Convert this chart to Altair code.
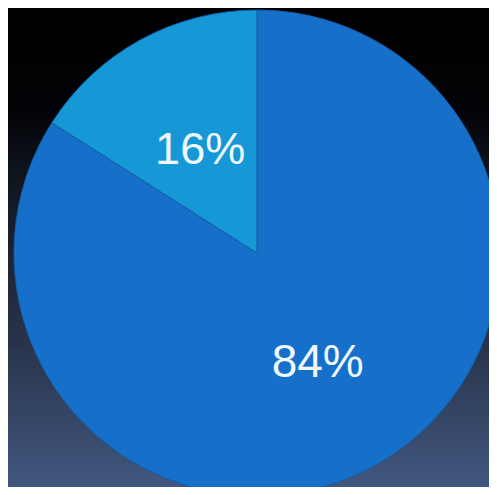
import altair as alt
import pandas as pd

categories = ["A", "B"]
values = [84, 16]
labels = ["84%", "16%"]
colors = ["#1670c9", "#1798d6"]

df = pd.DataFrame({"category": categories, "value": values, "label": labels, "order": [0, 1]})

W, H = 481, 479
CX, CY, R = 249, 242, 243

bg = alt.Chart(pd.DataFrame({"a": [0]})).mark_rect(
    color=alt.Gradient(
        gradient="linear",
        stops=[
            alt.GradientStop(color="#000000", offset=0.0),
            alt.GradientStop(color="#020306", offset=0.2),
            alt.GradientStop(color="#141a26", offset=0.4),
            alt.GradientStop(color="#29344c", offset=0.7),
            alt.GradientStop(color="#41587f", offset=1.0),
        ],
        x1=0, x2=0, y1=0, y2=1,
    )
).encode(x=alt.value(0), x2=alt.value(W), y=alt.value(0), y2=alt.value(H))

pie = alt.Chart(df).mark_arc(stroke="#135da8", strokeWidth=1).encode(
    theta=alt.Theta("value:Q", stack=True),
    order=alt.Order("order:Q"),
    color=alt.Color("category:N", scale=alt.Scale(domain=categories, range=colors), legend=None),
    radius=alt.value(R),
    x=alt.value(CX),
    y=alt.value(CY),
)

total = sum(values)

def label_layer(cat, r, size):
    return alt.Chart(df).transform_window(
        cum="sum(value)", sort=[alt.SortField("order")]
    ).transform_calculate(
        mid="datum.cum - datum.value / 2"
    ).transform_filter(
        alt.datum.category == cat
    ).mark_text(
        font="Liberation Sans", fontSize=size, color="#f2f8ff"
    ).encode(
        theta=alt.Theta("mid:Q", scale=alt.Scale(domain=[0, total]), stack=None),
        text="label:N",
        radius=alt.value(r),
        x=alt.value(CX),
        y=alt.value(CY),
    )

txt_big = label_layer("A", 126, 46)
txt_small = label_layer("B", 118, 45)

chart = alt.layer(bg, pie, txt_big, txt_small).properties(
    width=W, height=H, padding=0,
    autosize=alt.AutoSizeParams(type="fit", contains="padding"),
).configure_view(stroke=None).configure(background="#000000")

chart.save("out.html", embed_options={"renderer": "svg", "actions": False})
